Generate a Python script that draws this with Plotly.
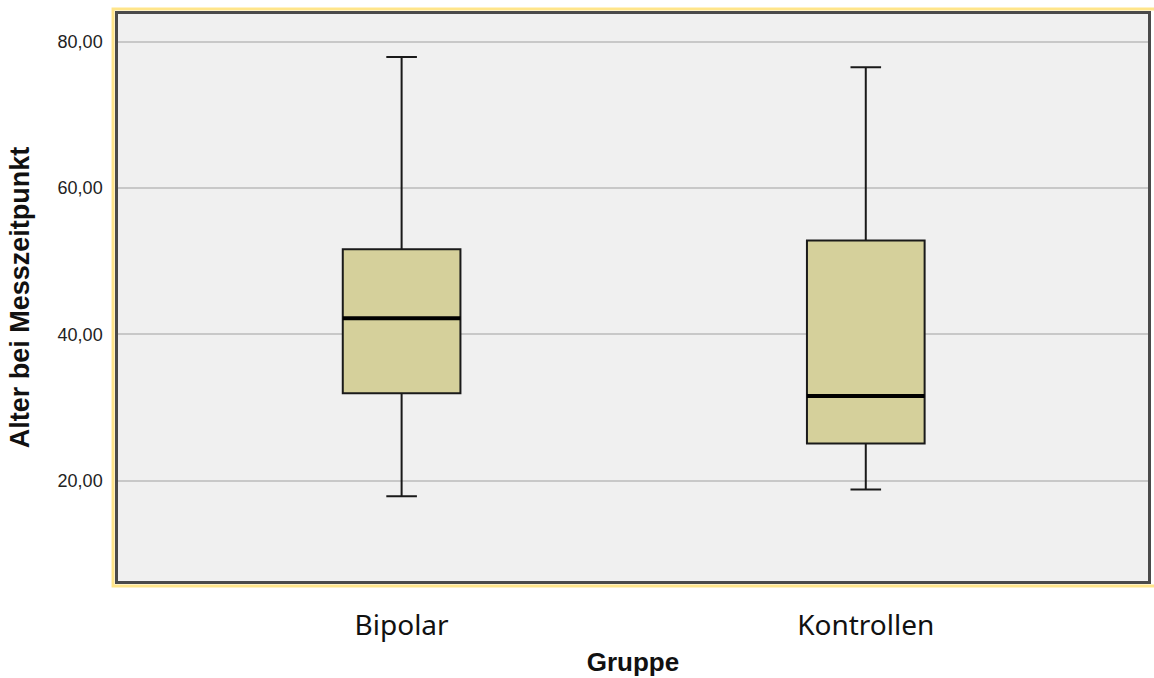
import plotly.graph_objects as go

# ---- data ----
groups = ["Bipolar", "Kontrollen"]
positions = [0, 1]
lower_whisker = [17.9, 18.8]
q1_values = [31.95, 25.1]
median_values = [42.2, 31.6]
q3_values = [51.65, 52.85]
upper_whisker = [77.9, 76.5]
y_tick_values = [20, 40, 60, 80]
y_tick_labels = ["20,00", "40,00", "60,00", "80,00"]

box_width = 0.2535
fill_color = "#D5D09B"

fig = go.Figure()

for i, name in enumerate(groups):
    fig.add_trace(go.Box(
        name=name,
        x=[positions[i]],
        q1=[q1_values[i]],
        median=[median_values[i]],
        q3=[q3_values[i]],
        lowerfence=[lower_whisker[i]],
        upperfence=[upper_whisker[i]],
        width=box_width,
        whiskerwidth=0.26,
        fillcolor=fill_color,
        line=dict(color="#1a1a1a", width=2),
        boxpoints=False,
        showlegend=False,
        hoverinfo="skip",
    ))
    # thicker median line, derived from the data
    fig.add_trace(go.Scatter(
        x=[positions[i] - box_width / 2, positions[i] + box_width / 2],
        y=[median_values[i], median_values[i]],
        mode="lines",
        line=dict(color="#000000", width=4),
        showlegend=False,
        hoverinfo="skip",
    ))

# light yellow outer frame (SPSS selection frame look)
fig.add_shape(type="rect", xref="paper", yref="paper",
              x0=-0.0048, x1=1.02, y0=-0.0088, y1=1.0088,
              line=dict(color="#FFE58A", width=3), layer="below")

fig.update_layout(
    width=1154, height=678,
    margin=dict(l=118, r=3, t=14, b=97),
    paper_bgcolor="white",
    plot_bgcolor="#F0F0F0",
    xaxis=dict(
        range=[-0.611, 1.608],
        tickvals=positions,
        ticktext=groups,
        ticks="",
        showgrid=False,
        zeroline=False,
        showline=True, mirror=True, linecolor="#4a4a4a", linewidth=2.5,
        tickfont=dict(family="Noto Sans", size=28, color="#111111"),
        ticklabelstandoff=18,
        title=dict(text="<b>Gruppe</b>",
                   font=dict(family="Liberation Sans", size=26, color="#111111"),
                   standoff=11),
    ),
    yaxis=dict(
        range=[6.31, 83.79],
        tickvals=y_tick_values,
        ticktext=y_tick_labels,
        ticks="",
        showgrid=True, gridcolor="#C8C8C8", gridwidth=2,
        zeroline=False,
        showline=True, mirror=True, linecolor="#4a4a4a", linewidth=2.5,
        tickfont=dict(family="Liberation Sans", size=18, color="#222222"),
        ticklabelstandoff=9,
        title=dict(text="<b>Alter bei Messzeitpunkt</b>",
                   font=dict(family="Liberation Sans", size=27, color="#111111"),
                   standoff=21),
    ),
)

fig.write_html("out.html",
               config={"displayModeBar": False},
               post_script="document.body.style.margin='0';document.body.style.overflow='hidden';")
